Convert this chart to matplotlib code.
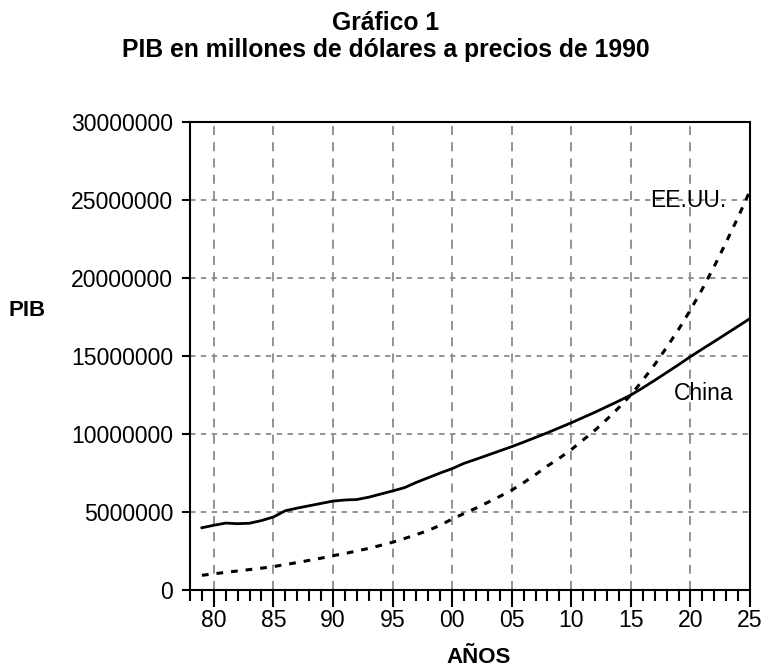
import matplotlib
matplotlib.use("Agg")
import matplotlib.pyplot as plt
import numpy as np

plt.rcParams["font.family"] = ["Liberation Sans", "DejaVu Sans"]

#### Data (millions of 1990 dollars)

years_cn = [1979, 1980, 1981, 1982, 1983, 1984, 1985, 1986, 1987, 1988, 1989, 1990,
            1991, 1992, 1993, 1994, 1995, 1996, 1997, 1998, 1999, 2000, 2001, 2002,
            2003, 2004, 2005, 2006, 2007, 2008, 2009, 2010, 2011, 2012, 2013, 2014,
            2015, 2016, 2017, 2018, 2019, 2020, 2021, 2022, 2023, 2024, 2025]
china = [3.99, 4.15, 4.29, 4.25, 4.28, 4.45, 4.68, 5.08, 5.25, 5.40, 5.55, 5.70,
         5.77, 5.80, 5.95, 6.15, 6.35, 6.56, 6.90, 7.20, 7.50, 7.78, 8.12, 8.38,
         8.65, 8.92, 9.19, 9.48, 9.78, 10.08, 10.40, 10.72, 11.06, 11.40, 11.76, 12.12,
         12.50, 12.96, 13.44, 13.94, 14.44, 14.96, 15.45, 15.93, 16.42, 16.91, 17.40]

years_us = [1979, 1980, 1981, 1982, 1983, 1984, 1985, 1986, 1987, 1988, 1989, 1990,
            1991, 1992, 1993, 1994, 1995, 1996, 1997, 1998, 1999, 2000, 2001, 2002,
            2003, 2004, 2005, 2006, 2007, 2008, 2009, 2010, 2011, 2012, 2013, 2014,
            2015, 2016, 2017, 2018, 2019, 2020, 2021, 2022, 2023, 2024, 2025]
eeuu = [0.94, 1.04, 1.13, 1.22, 1.31, 1.40, 1.50, 1.63, 1.76, 1.90, 2.04, 2.20,
        2.34, 2.50, 2.67, 2.86, 3.06, 3.30, 3.55, 3.82, 4.15, 4.55, 4.90, 5.25,
        5.62, 6.00, 6.40, 6.88, 7.40, 7.95, 8.45, 9.00, 9.62, 10.25, 10.95, 11.70,
        12.50, 13.45, 14.45, 15.55, 16.70, 17.95, 19.30, 20.75, 22.30, 23.90, 25.60]

x_ticks = [1980, 1985, 1990, 1995, 2000, 2005, 2010, 2015, 2020, 2025]
x_labels = ["80", "85", "90", "95", "00", "05", "10", "15", "20", "25"]
y_ticks = [0, 5000000, 10000000, 15000000, 20000000, 25000000, 30000000]

#### Plot

fig = plt.figure(figsize=(7.64, 6.70), dpi=100)
ax = fig.add_axes([0.2487, 0.1194, 0.9817 - 0.2487, 0.8179 - 0.1194])

ax.plot(years_cn, np.array(china) * 1e6, color="black", lw=2.0, zorder=3)
ax.plot(years_us, np.array(eeuu) * 1e6, color="black", lw=2.2,
        linestyle=(0, (2.2, 2.6)), zorder=3)

ax.set_xlim(1978, 2025)
ax.set_ylim(0, 30000000)
ax.set_xticks(x_ticks)
ax.set_xticklabels(x_labels)
ax.set_xticks(range(1978, 2026), minor=True)
ax.set_yticks(y_ticks)
ax.set_yticklabels([str(v) for v in y_ticks])

ax.tick_params(axis="both", labelsize=16.6, width=1.5, direction="out")
ax.tick_params(axis="x", which="major", length=12, pad=2)
ax.tick_params(axis="x", which="minor", width=1.5, length=8, direction="out")
ax.tick_params(axis="y", length=6, pad=6)

for s in ax.spines.values():
    s.set_linewidth(1.5)

for xv in x_ticks[:-1]:
    ax.axvline(xv, color="#8a8a8a", lw=1.3, linestyle=(0, (5, 4)), zorder=1)
for yv in y_ticks[1:-1]:
    ax.axhline(yv, color="#8a8a8a", lw=1.3, linestyle=(0, (3, 3)), zorder=1)

ax.text(2016.6, 25000000, "EE.UU.", fontsize=16.5, va="center", ha="left", zorder=4)
ax.text(2018.6, 12600000, "China", fontsize=16.5, va="center", ha="left", zorder=4)

fig.text(0.036, 0.537, "PIB", fontsize=16, fontweight="bold", ha="center", va="center")
fig.text(0.627, 0.018, "AÑOS", fontsize=16, fontweight="bold", ha="center", va="center")
fig.text(0.505, 0.966, "Gráfico 1", fontsize=17.8, fontweight="bold", ha="center", va="center")
fig.text(0.505, 0.925, "PIB en millones de dólares a precios de 1990", fontsize=17.8,
         fontweight="bold", ha="center", va="center")

fig.savefig("out.png", dpi=100)
